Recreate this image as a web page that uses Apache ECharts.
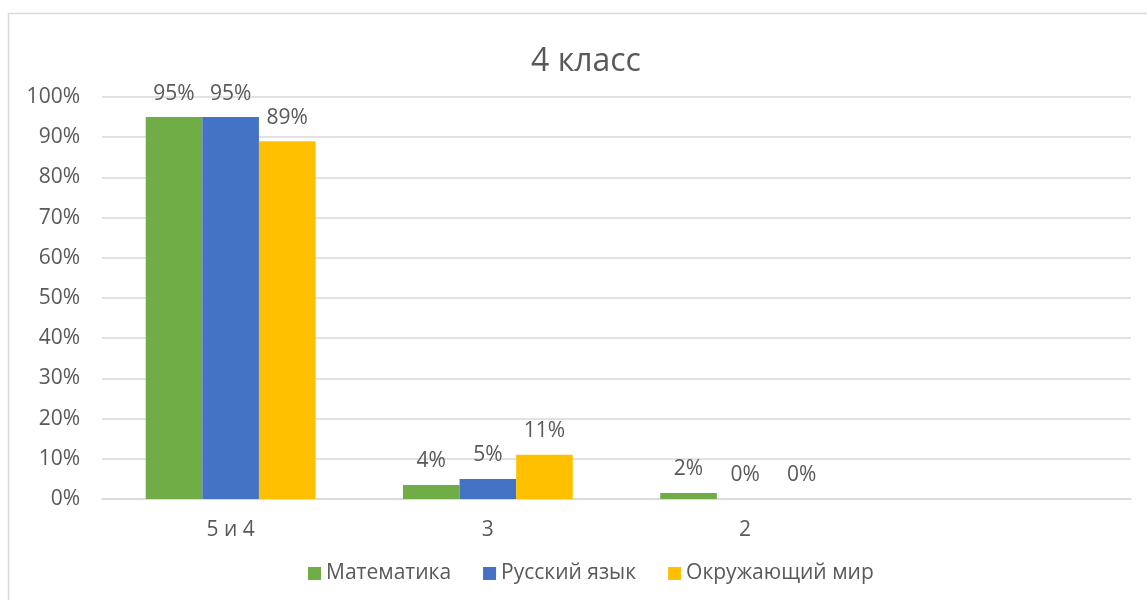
<!DOCTYPE html>
<html>
<head>
<meta charset="utf-8">
<script src="https://cdn.jsdelivr.net/npm/echarts@6/dist/echarts.min.js"></script>
<style>
html,body{margin:0;padding:0;background:#fff;}
#main{width:1147px;height:600px;}
</style>
</head>
<body>
<div id="main"></div>
<script>
const categories = ['5 и 4', '3', '2', ''];
const seriesNames = ['Математика', 'Русский язык', 'Окружающий мир'];
const mathValues = [95, 3.5, 1.5, null];
const russianValues = [95, 5, 0, null];
const worldValues = [89, 11, 0, null];
const yTicks = [0, 10, 20, 30, 40, 50, 60, 70, 80, 90, 100];
const colors = ['#70ad47', '#4472c4', '#ffc000'];

const FONT = 'Open Sans';
const TXT = '#595959';
const FS = 21;

const chart = echarts.init(document.getElementById('main'));
function mk(name, data, color) {
  return {
    name: name, type: 'bar', data: data,
    barGap: '0%', barCategoryGap: '34%',
    itemStyle: { color: color },
    label: {
      show: true, position: 'top', distance: 13,
      color: TXT, fontSize: FS, fontFamily: FONT,
      formatter: p => (p.value == null ? '' : Math.round(p.value) + '%')
    }
  };
}
chart.setOption({
  animation: false,
  backgroundColor: '#fff',
  graphic: [{
    type: 'rect', shape: { x: 8.5, y: 13.5, width: 1300, height: 800 },
    style: { fill: 'none', stroke: '#d9d9d9', lineWidth: 1.5 }, silent: true
  }],
  title: {
    text: '4 класс', left: 581, top: 41, textAlign: 'center',
    textStyle: { fontFamily: FONT, fontSize: 32, fontWeight: 'normal', color: TXT }
  },
  legend: {
    data: seriesNames, left: 303, top: 558,
    itemWidth: 13, itemHeight: 13, itemGap: 32, icon: 'rect',
    textStyle: { fontFamily: FONT, fontSize: FS, color: TXT }
  },
  grid: { left: 102, right: 16, top: 97, bottom: 101, containLabel: false },
  xAxis: {
    type: 'category', data: categories,
    axisLine: { show: true, lineStyle: { color: '#d9d9d9', width: 1.5 } },
    axisTick: { show: false },
    axisLabel: { color: TXT, fontSize: FS, fontFamily: FONT, margin: 21 }
  },
  yAxis: {
    type: 'value', min: 0, max: 100, interval: 10,
    axisLine: { show: false }, axisTick: { show: false },
    splitLine: { lineStyle: { color: '#d9d9d9', width: 1.5 } },
    axisLabel: { color: TXT, fontSize: FS, fontFamily: FONT, margin: 22, formatter: v => v + '%' }
  },
  series: [
    mk(seriesNames[0], mathValues, colors[0]),
    mk(seriesNames[1], russianValues, colors[1]),
    mk(seriesNames[2], worldValues, colors[2])
  ]
});
</script>
</body>
</html>
